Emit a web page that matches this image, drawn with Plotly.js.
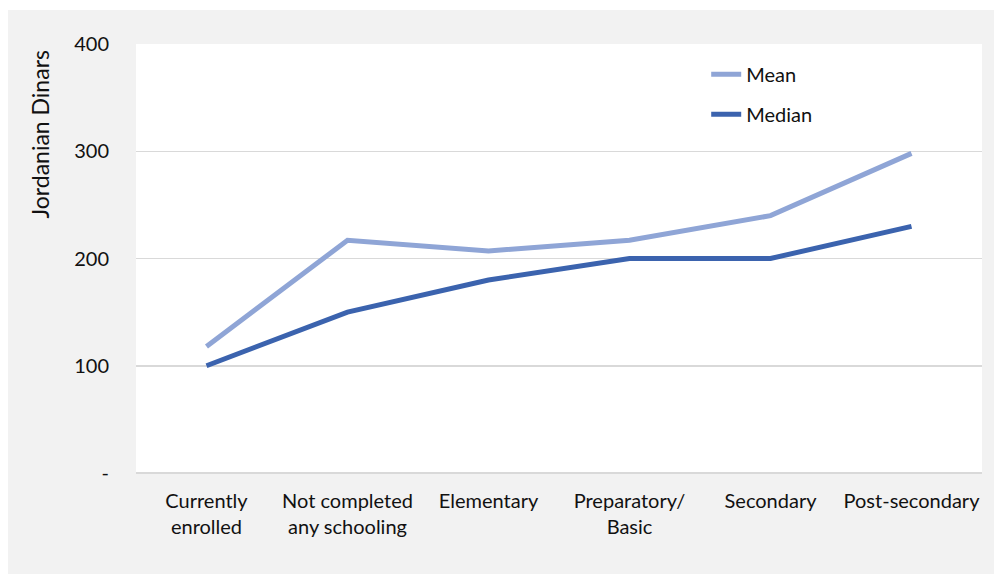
<!DOCTYPE html>
<html>
<head>
<meta charset="utf-8">
<script src="https://cdn.plot.ly/plotly-3.0.1.min.js"></script>
<style>
html, body { margin: 0; padding: 0; background: #ffffff; }
#chart { position: absolute; left: 8px; top: 10px; width: 986px; height: 564px; }
</style>
</head>
<body>
<div id="chart"></div>
<script>
const categories = ["Currently<br>enrolled", "Not completed<br>any schooling", "Elementary", "Preparatory/<br>Basic", "Secondary", "Post-secondary"];
const meanValues = [118, 217, 207, 217, 240, 298];
const medianValues = [100, 150, 180, 200, 200, 230];
const yTickVals = [0, 100, 200, 300, 400];
const yTickText = ["-", "100", "200", "300", "400"];
const yTitle = "Jordanian Dinars";

const FONT = "Lato, 'Open Sans', sans-serif";

const traces = [
  { x: categories, y: meanValues, name: "Mean", type: "scatter", mode: "lines",
    line: { color: "#8FA5D6", width: 5 }, legendgroup: "a" },
  { x: categories, y: medianValues, name: "Median", type: "scatter", mode: "lines",
    line: { color: "#3B63AE", width: 5 }, legendgroup: "b" }
];

const layout = {
  width: 986, height: 564,
  margin: { l: 128, r: 12, t: 34, b: 101 },
  paper_bgcolor: "#f2f2f2",
  plot_bgcolor: "#ffffff",
  font: { family: FONT, size: 20, color: "#111111" },
  showlegend: true,
  legend: {
    x: 0.674, y: 0.975, xanchor: "left", yanchor: "top",
    bgcolor: "rgba(0,0,0,0)", font: { family: FONT, size: 20, color: "#111111" },
    traceorder: "grouped", tracegroupgap: 11, itemwidth: 30
  },
  xaxis: {
    type: "category", range: [-0.5, 5.5], showgrid: false, zeroline: false,
    showline: false, ticks: "", ticklabelstandoff: 14,
    tickfont: { family: FONT, size: 20, color: "#111111" }
  },
  yaxis: {
    range: [0, 400], tickvals: yTickVals, ticktext: yTickText,
    showgrid: true, gridcolor: "#d9d9d9", gridwidth: 1.5,
    zeroline: true, zerolinecolor: "#d9d9d9", zerolinewidth: 1.5,
    showline: false, ticks: "", ticklabelstandoff: 26,
    tickfont: { family: FONT, size: 20, color: "#111111" }
  },
  annotations: [{
    text: yTitle, xref: "paper", yref: "paper", x: -0.113, y: 0.79,
    xanchor: "center", yanchor: "middle", textangle: -90, showarrow: false,
    font: { family: FONT, size: 23, color: "#111111" }
  }]
};

Plotly.newPlot("chart", traces, layout, { displayModeBar: false, staticPlot: true });
</script>
</body>
</html>
